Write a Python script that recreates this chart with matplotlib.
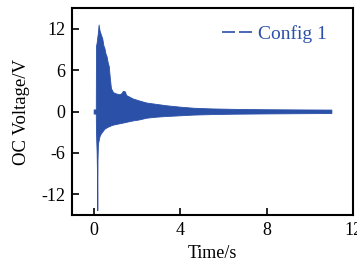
import numpy as np
import matplotlib.pyplot as plt

# envelope of the open-circuit voltage trace
t_env = [0.0, 0.1, 0.11, 0.14, 0.16, 0.17, 0.18, 0.2, 0.23, 0.27, 0.33, 0.4,
         0.45, 0.5, 0.55, 0.6, 0.66, 0.7, 0.74, 0.8, 0.9, 1.05, 1.2, 1.3,
         1.35, 1.45, 1.5, 1.8, 2.1, 2.44, 2.9, 3.37, 4.0, 4.6, 5.4, 6.5,
         8.0, 9.5, 11.0]
v_upper = [0.3, 0.3, 9.5, 10.0, 10.5, 10.8, 11.0, 11.5, 12.6, 11.8, 11.2, 10.6,
           9.6, 9.2, 8.4, 8.0, 7.0, 6.6, 5.2, 3.4, 2.8, 2.6, 2.5, 2.7,
           3.0, 2.9, 2.4, 1.9, 1.6, 1.3, 1.1, 0.9, 0.7, 0.55, 0.45, 0.38,
           0.33, 0.3, 0.28]
v_lower = [-0.3, -0.3, -3.0, -6.0, -10.0, -14.3, -7.0, -4.7, -4.2, -3.6, -3.2, -2.9,
           -2.7, -2.5, -2.4, -2.3, -2.2, -2.15, -2.1, -2.0, -1.9, -1.8, -1.7, -1.65,
           -1.6, -1.55, -1.5, -1.3, -1.15, -0.9, -0.75, -0.65, -0.55, -0.45, -0.38, -0.32,
           -0.28, -0.25, -0.22]

x_ticks = [0, 4, 8, 12]
y_ticks = [-12, -6, 0, 6, 12]
series_name = 'Config 1'
blue = '#2b50a8'

plt.rcParams['font.family'] = ['Liberation Serif', 'DejaVu Serif']
plt.rcParams['font.size'] = 13
plt.rcParams['axes.unicode_minus'] = False

fig = plt.figure(figsize=(3.57, 2.64), dpi=100)
ax = fig.add_axes([0.2017, 0.1856, 0.7871, 0.7841])

ax.fill_between(t_env, v_lower, v_upper, color=blue, lw=0.6, edgecolor=blue)
ax.plot([], [], color=blue, ls=(0, (7.8, 2.4)), lw=1.2, label=series_name)

ax.set_xlim(-1, 12)
ax.set_ylim(-15, 15)
ax.set_xticks(x_ticks)
ax.set_yticks(y_ticks)
ax.tick_params(direction='in', length=5, width=1.2, pad=5, labelsize=13)
for sp in ax.spines.values():
    sp.set_linewidth(1.5)

ax.set_xlabel('Time/s', labelpad=4)
ax.set_ylabel('OC Voltage/V', labelpad=8, fontsize=13.5)

leg = ax.legend(loc='upper right', bbox_to_anchor=(0.936, 0.957), frameon=False,
                handlelength=1.67, handletextpad=0.2, borderaxespad=0,
                prop={'size': 14})
for txt in leg.get_texts():
    txt.set_color(blue)

fig.savefig('out.png', dpi=100)
